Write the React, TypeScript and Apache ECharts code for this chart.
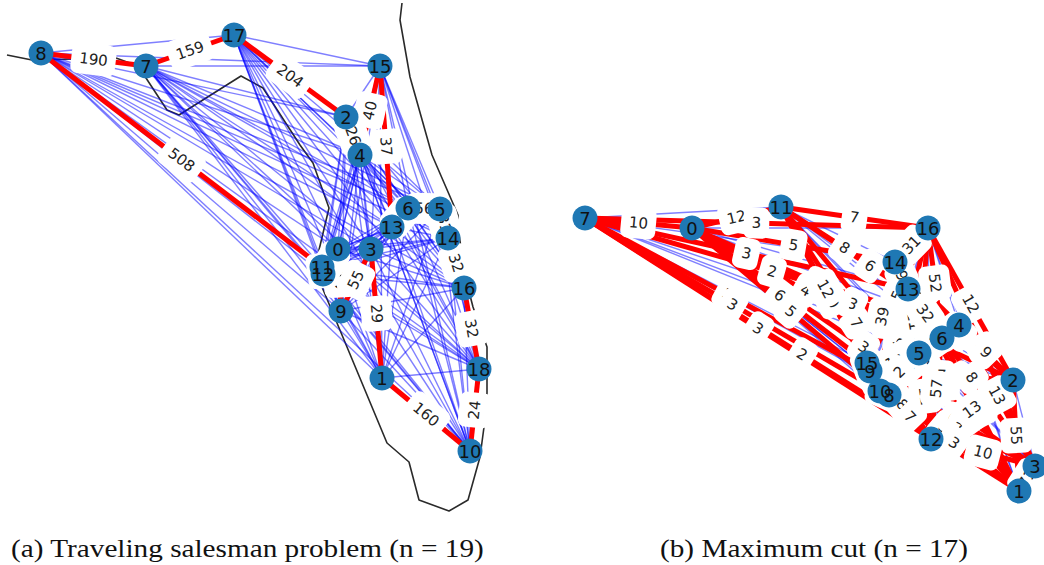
import React, { useEffect, useRef } from "react";
import * as echarts from "echarts";

type Edge = [number, number, number];

// Panel (a): node positions in the picture's coordinate plane
const tspNodes: [number, number, number][] = [
  [0, 338, 249], [1, 382, 378], [2, 346, 117], [3, 371, 249], [4, 360, 155],
  [5, 440, 209], [6, 408, 208], [7, 146, 66], [8, 41, 53], [9, 341, 311],
  [10, 470, 451], [11, 322, 267], [12, 323, 274], [13, 392, 227], [14, 448, 238],
  [15, 380, 66], [16, 464, 288], [17, 234, 35], [18, 479, 369],
];
const tspTour: Edge[] = [
  [9, 0, 19], [12, 0, 17], [11, 12, 16], [13, 6, 18], [5, 14, 31],
  [8, 7, 190], [7, 17, 159], [17, 2, 204], [2, 4, 26], [4, 15, 40], [15, 13, 37],
  [6, 5, 56], [14, 16, 32], [16, 18, 32], [18, 10, 24],
  [10, 1, 160], [1, 3, 29], [3, 9, 55], [11, 8, 508],
];
const coastX = [7, 32, 116, 135, 146, 167, 179, 241, 263, 300, 313, 329, 319, 322, 387, 409, 419, 449, 468, 480, 484, 487, 487, 473, 466, 458, 458, 432, 410, 400, 402];
const coastY = [55, 60, 58, 65, 78, 110, 115, 76, 88, 145, 163, 208, 250, 287, 443, 462, 500, 511, 500, 457, 427, 393, 347, 307, 280, 228, 215, 155, 77, 20, 3];

// Panel (b)
const cutNodes: [number, number, number][] = [
  [0, 692, 228], [1, 1019, 491], [2, 1013, 380], [3, 1035, 466], [4, 959, 325],
  [5, 919, 353], [6, 942, 338], [7, 585, 218], [8, 889, 395], [9, 870, 371],
  [10, 880, 391], [11, 781, 207], [12, 931, 439], [13, 908, 289], [14, 895, 262],
  [15, 867, 363], [16, 928, 228],
];
const cutSideA = [7, 11, 14, 15, 8, 2, 6, 3, 5];
const cutSideB = [0, 16, 13, 4, 9, 10, 12, 1];
const cutWeights = [
  [10, 3, 3, 2, 3, 3, 3, 2],
  [12, 7, 8, 6, 12, 10, 7, 5],
  [5, 31, 9, 8, 39, 7, 6, 4],
  [6, 5, 5, 6, 25, 22, 18, 6],
  [5, 4, 6, 8, 18, 30, 7, 3],
  [3, 12, 7, 9, 7, 6, 13, 55],
  [4, 52, 32, 40, 8, 7, 57, 3],
  [3, 5, 8, 13, 6, 7, 10, 71],
  [4, 9, 21, 11, 14, 2, 12, 1],
];
// Edges whose weight stays readable in the reference, painted last in this order
const cutReadable: [number, number][] = [
  [7, 0], [7, 13], [7, 4], [7, 9], [7, 10], [7, 12], [7, 1],
  [11, 0], [7, 16], [11, 16], [14, 0], [2, 0], [11, 10], [15, 0], [8, 0], [11, 13], [11, 4], [11, 9], [11, 12],
  [14, 16], [6, 16], [2, 16], [6, 13], [2, 4], [15, 13], [14, 9], [5, 10], [2, 9],
  [15, 12], [8, 12], [6, 12], [3, 13], [3, 4], [3, 9], [3, 10], [8, 1], [6, 1], [2, 12], [3, 12], [2, 1],
];

const captionA = "(a) Traveling salesman problem (n = 19)";
const captionB = "(b) Maximum cut (n = 17)";

const NODE = "#1f78b4";
const RED = "#ff0000";
const BLUE = "rgba(0,0,255,0.5)";

function pairsWithin(ids: number[]): [number, number][] {
  const out: [number, number][] = [];
  ids.forEach((a, i) => ids.slice(i + 1).forEach((b) => out.push([a, b])));
  return out;
}

function edgeSeries(nodes: [number, number, number][], pairs: number[][], stroke: string, width: number, z: number) {
  const pos = new Map(nodes.map((n) => [n[0], n]));
  return {
    type: "custom",
    z,
    silent: true,
    clip: false,
    encode: { x: [0, 2], y: [1, 3] },
    data: pairs.map(([a, b]) => [pos.get(a)![1], pos.get(a)![2], pos.get(b)![1], pos.get(b)![2]]),
    renderItem: (_: any, api: any) => {
      const p1 = api.coord([api.value(0), api.value(1)]);
      const p2 = api.coord([api.value(2), api.value(3)]);
      return {
        type: "line",
        shape: { x1: p1[0], y1: p1[1], x2: p2[0], y2: p2[1] },
        style: { stroke, lineWidth: width, fill: "none" },
      };
    },
  };
}

function labelSeries(nodes: [number, number, number][], edges: Edge[], fontSize: number, z: number) {
  const pos = new Map(nodes.map((n) => [n[0], n]));
  return {
    type: "custom",
    z,
    silent: true,
    clip: false,
    encode: { x: 0, y: 1 },
    data: edges.map(([a, b]) => [pos.get(a)![1], pos.get(a)![2], pos.get(b)![1], pos.get(b)![2]]),
    renderItem: (params: any, api: any) => {
      const p1 = api.coord([api.value(0), api.value(1)]);
      const p2 = api.coord([api.value(2), api.value(3)]);
      let dx = p2[0] - p1[0];
      let dy = p2[1] - p1[1];
      if (dx < 0) { dx = -dx; dy = -dy; }
      return {
        type: "text",
        x: (p1[0] + p2[0]) / 2,
        y: (p1[1] + p2[1]) / 2,
        rotation: -Math.atan2(dy, dx),
        style: {
          text: String(edges[params.dataIndex][2]),
          fontSize,
          fontFamily: "DejaVu Sans",
          fill: "#222222",
          align: "center",
          verticalAlign: "middle",
          backgroundColor: "#ffffff",
          padding: [8, 8],
          borderRadius: 7,
        },
      };
    },
  };
}

function nodeSeries(nodes: [number, number, number][]) {
  return {
    type: "scatter",
    z: 6,
    silent: true,
    symbolSize: 25,
    itemStyle: { color: NODE, opacity: 1 },
    data: nodes.map((n) => [n[1], n[2], n[0]]),
    label: {
      show: true,
      position: "inside",
      color: "#111111",
      fontFamily: "DejaVu Sans",
      fontSize: 18,
      formatter: (p: any) => String(p.value[2]),
    },
  };
}

function coastSeries(xs: number[], ys: number[]) {
  return {
    type: "line",
    z: 1,
    silent: true,
    showSymbol: false,
    lineStyle: { color: "#2a2a2a", width: 1.6 },
    data: xs.map((x, i) => [x, ys[i]]),
  };
}

function caption(text: string, x: number) {
  return {
    type: "text",
    x,
    y: 535,
    scaleX: 1.125,
    style: { text, font: '26px "Liberation Serif"', fill: "#111", align: "left", verticalAlign: "top" },
  };
}

export default function App() {
  const ref = useRef<HTMLDivElement>(null);
  useEffect(() => {
    const chart = echarts.init(ref.current!, undefined, { renderer: "svg" });
    const tourKey = new Set(tspTour.map(([a, b]) => `${Math.min(a, b)}-${Math.max(a, b)}`));
    const tspBlue = pairsWithin(tspNodes.map((n) => n[0])).filter(
      ([a, b]) => !tourKey.has(`${Math.min(a, b)}-${Math.max(a, b)}`)
    );
    const cutBlue = [...pairsWithin(cutSideA), ...pairsWithin(cutSideB)];
    const cutRed: Edge[] = [];
    cutSideA.forEach((a, i) => cutSideB.forEach((b, j) => cutRed.push([a, b, cutWeights[i][j]])));
    const rank = (e: Edge) => cutReadable.findIndex(([a, b]) => a === e[0] && b === e[1]);
    const cutLabels = [...cutRed].sort((p, q) => rank(p) - rank(q));

    chart.setOption({
      animation: false,
      backgroundColor: "#ffffff",
      grid: { left: 0, right: 0, top: 0, bottom: 0 },
      xAxis: { type: "value", min: 0, max: 1044, show: false },
      yAxis: { type: "value", min: 0, max: 565, inverse: true, show: false },
      graphic: [caption(captionA, 11), caption(captionB, 660)],
      series: [
        coastSeries(coastX, coastY),
        edgeSeries(tspNodes, tspBlue, BLUE, 1.4, 2),
        edgeSeries(tspNodes, tspTour, RED, 5, 3),
        labelSeries(tspNodes, tspTour, 15, 4),
        nodeSeries(tspNodes),
        edgeSeries(cutNodes, cutBlue, BLUE, 1.4, 2),
        edgeSeries(cutNodes, cutRed, RED, 5, 3),
        labelSeries(cutNodes, cutLabels, 15, 4),
        nodeSeries(cutNodes),
      ],
    });
    return () => chart.dispose();
  }, []);
  return <div ref={ref} style={{ position: "absolute", left: 0, top: 0, width: 1044, height: 565 }} />;
}
